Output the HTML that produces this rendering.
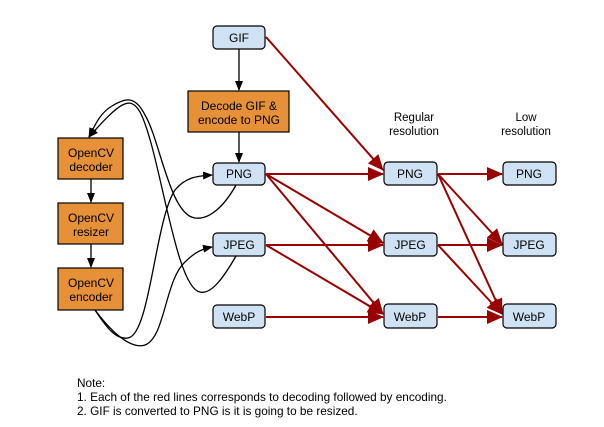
<!DOCTYPE html>
<html><head><style>html,body{margin:0;padding:0;background:#fff;}svg{display:block}</style></head>
<body>
<svg width="604" height="427" viewBox="0 0 604 427" xmlns="http://www.w3.org/2000/svg" font-family="Liberation Sans, sans-serif">
<defs>
<marker id="ab" markerWidth="10" markerHeight="10" refX="9" refY="5" orient="auto" markerUnits="userSpaceOnUse"><path d="M0,1 L10,5 L0,9 z" fill="#000"/></marker>
<marker id="ar" markerWidth="16" markerHeight="14" refX="15" refY="7" orient="auto" markerUnits="userSpaceOnUse"><path d="M0,0 L16,7 L0,14 z" fill="#990000"/></marker>
</defs>
<g fill="none" stroke="#990000" stroke-width="2" marker-end="url(#ar)">
<line x1="266" y1="37" x2="383" y2="170"/>
<line x1="266" y1="174" x2="383" y2="174"/>
<line x1="266" y1="174" x2="383" y2="243"/>
<line x1="266" y1="174" x2="383" y2="314"/>
<line x1="266" y1="245" x2="383" y2="245"/>
<line x1="266" y1="245" x2="383" y2="314"/>
<line x1="266" y1="317" x2="383" y2="317"/>
<line x1="438" y1="174" x2="502" y2="174"/>
<line x1="438" y1="174" x2="502" y2="244"/>
<line x1="438" y1="174" x2="502" y2="314"/>
<line x1="438" y1="245" x2="502" y2="245"/>
<line x1="438" y1="245" x2="502" y2="314"/>
<line x1="438" y1="317" x2="502" y2="317"/>
</g>
<g fill="none" stroke="#000" stroke-width="1.3" marker-end="url(#ab)">
<line x1="239" y1="49" x2="239" y2="90"/>
<line x1="239" y1="132" x2="239" y2="162"/>
<line x1="91" y1="179" x2="91" y2="202"/>
<line x1="91" y1="244" x2="91" y2="267"/>
<path d="M236,185 C225,205 210,220 195,218 C170,215 160,140 145,115 C135,95 125,98 112,106 C100,113 95,125 89,137"/>
<path d="M236,256 C225,275 212,295 200,292 C175,288 160,150 140,112 C130,95 120,102 89,137"/>
<path d="M95,310 C105,325 115,340 128,338 C150,335 155,220 175,190 C185,178 195,176 212,175"/>
<path d="M95,310 C110,330 130,350 145,345 C165,338 165,280 185,262 C195,252 202,249 212,247"/>
</g>
<g stroke="#000" stroke-width="1.2">
<rect x="213" y="26" width="52" height="23" rx="4" fill="#cfe2f3"/>
<rect x="213" y="163" width="52" height="22" rx="4" fill="#cfe2f3"/>
<rect x="213" y="233" width="52" height="23" rx="4" fill="#cfe2f3"/>
<rect x="213" y="305" width="52" height="23" rx="4" fill="#cfe2f3"/>
<rect x="384" y="162" width="53" height="23" rx="4" fill="#cfe2f3"/>
<rect x="384" y="233" width="53" height="23" rx="4" fill="#cfe2f3"/>
<rect x="384" y="304" width="53" height="24" rx="4" fill="#cfe2f3"/>
<rect x="503" y="162" width="53" height="23" rx="4" fill="#cfe2f3"/>
<rect x="503" y="233" width="53" height="23" rx="4" fill="#cfe2f3"/>
<rect x="503" y="304" width="53" height="24" rx="4" fill="#cfe2f3"/>
<rect x="188" y="91" width="101" height="41" fill="#e69138"/>
<rect x="58" y="138" width="65" height="41" fill="#e69138"/>
<rect x="58" y="203" width="65" height="41" fill="#e69138"/>
<rect x="58" y="268" width="65" height="42" fill="#e69138"/>
</g>
<g font-size="12" text-anchor="middle" fill="#000">
<text x="239" y="42">GIF</text>
<text x="239" y="178">PNG</text>
<text x="239" y="249">JPEG</text>
<text x="239" y="321">WebP</text>
<text x="410" y="178">PNG</text>
<text x="410" y="249">JPEG</text>
<text x="410" y="321">WebP</text>
<text x="529" y="178">PNG</text>
<text x="529" y="249">JPEG</text>
<text x="529" y="321">WebP</text>
<text x="239" y="110">Decode GIF &amp;</text>
<text x="239" y="124">encode to PNG</text>
<text x="91" y="157">OpenCV</text>
<text x="91" y="171">decoder</text>
<text x="91" y="222">OpenCV</text>
<text x="91" y="236">resizer</text>
<text x="91" y="287">OpenCV</text>
<text x="91" y="301">encoder</text>
<text x="414" y="121" font-size="11.5">Regular</text>
<text x="414" y="135" font-size="11.5">resolution</text>
<text x="526" y="121" font-size="11.5">Low</text>
<text x="526" y="135" font-size="11.5">resolution</text>
</g>
<g font-size="11.8" fill="#000">
<text x="77" y="387">Note:</text>
<text x="77" y="401">1. Each of the red lines corresponds to decoding followed by encoding.</text>
<text x="77" y="415">2. GIF is converted to PNG is it is going to be resized.</text>
</g>
</svg>
</body></html>
